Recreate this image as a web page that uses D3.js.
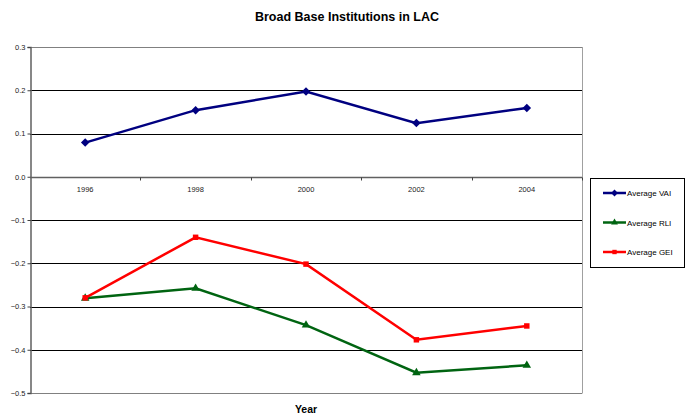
<!DOCTYPE html>
<html>
<head>
<meta charset="utf-8">
<script src="https://cdn.jsdelivr.net/npm/d3@7"></script>
<style>
  body { margin: 0; background: #fff; }
  svg { font-family: Arial, "Liberation Sans", sans-serif; }
</style>
</head>
<body>
<div id="chart"></div>
<script>
  // chart data
  var years = ["1996", "1998", "2000", "2002", "2004"];
  var vai = [0.079, 0.154, 0.197, 0.124, 0.159];
  var rli = [-0.281, -0.258, -0.343, -0.453, -0.436];
  var gei = [-0.280, -0.140, -0.202, -0.377, -0.345];
  var yTicks = [0.3, 0.2, 0.1, 0.0, -0.1, -0.2, -0.3, -0.4, -0.5];

  var series = [
    { name: "Average VAI", values: vai, color: "#000080", marker: "diamond" },
    { name: "Average RLI", values: rli, color: "#006411", marker: "triangle" },
    { name: "Average GEI", values: gei, color: "#ff0000", marker: "square" }
  ];

  (function(){
    var width = 686, height = 417;
    var plotLeft = 30, plotRight = 582, plotTop = 47, plotBottom = 393;

    var svg = d3.select('#chart')
        .append('svg')
        .attr('width', width)
        .attr('height', height);

    var x = d3.scaleBand().domain(years).range([plotLeft, plotRight]);
    var y = d3.scaleLinear().domain([-0.5, 0.3]).range([plotBottom, plotTop]);

    // gridlines
    svg.append('g')
      .selectAll('line')
      .data(yTicks)
      .enter().append('line')
        .attr('x1', plotLeft).attr('x2', plotRight)
        .attr('y1', function(d) { return Math.round(y(d)) + 0.5; })
        .attr('y2', function(d) { return Math.round(y(d)) + 0.5; })
        .style('stroke', function(d) { return (d === 0.3 || d === -0.5) ? '#808080' : '#000'; })
        .style('stroke-width', 1);

    // right border of plot area
    svg.append('line')
      .attr('x1', plotRight + 0.5).attr('x2', plotRight + 0.5)
      .attr('y1', plotTop).attr('y2', plotBottom + 0.5)
      .style('stroke', '#a0a0a0');

    // y axis
    var yAxis = svg.append('g')
      .attr('transform', 'translate(' + (plotLeft + 0.5) + ',0)')
      .call(d3.axisLeft(y).tickValues(yTicks).tickSize(3).tickFormat(d3.format('.1f')));
    yAxis.select('.domain').style('stroke', '#606060').style('stroke-width', 1.5);
    yAxis.selectAll('.tick line').style('stroke', '#404040');
    yAxis.selectAll('.tick text').style('font-size', '7.5px').style('fill', '#222')
      .style('font-family', 'Arial, "Liberation Sans", sans-serif').attr('x', -5);

    // x axis at zero, ticks between categories
    var y0 = Math.round(y(0)) + 0.5;
    svg.append('line')
      .attr('x1', plotLeft).attr('x2', plotRight)
      .attr('y1', y0).attr('y2', y0)
      .style('stroke', '#606060').style('stroke-width', 1.5);
    svg.append('g')
      .selectAll('line')
      .data(years)
      .enter().append('line')
        .attr('x1', function(d) { return Math.round(x(d) + x.step()) + 0.5; })
        .attr('x2', function(d) { return Math.round(x(d) + x.step()) + 0.5; })
        .attr('y1', y0).attr('y2', y0 + 3)
        .style('stroke', '#404040');
    svg.append('g')
      .selectAll('text')
      .data(years)
      .enter().append('text')
        .attr('x', function(d) { return x(d) + x.bandwidth() / 2; })
        .attr('y', y0 + 14)
        .attr('text-anchor', 'middle')
        .style('font-size', '7.5px')
        .style('fill', '#222')
        .text(function(d) { return d; });

    var markerPath = function(type) {
      if (type === 'diamond') return d3.symbol().type(d3.symbolDiamond2).size(46)();
      if (type === 'triangle') return d3.symbol().type(d3.symbolTriangle2).size(52)();
      return d3.symbol().type(d3.symbolSquare2).size(38)();
    };

    var line = d3.line()
      .x(function(d, i) { return x(years[i]) + x.bandwidth() / 2; })
      .y(function(d) { return y(d); });

    series.forEach(function(s) {
      svg.append('path')
        .datum(s.values)
        .attr('d', line)
        .style('fill', 'none')
        .style('stroke', s.color)
        .style('stroke-width', 2.5);
      svg.append('g')
        .selectAll('path')
        .data(s.values)
        .enter().append('path')
          .attr('d', markerPath(s.marker))
          .attr('transform', function(d, i) {
            return 'translate(' + (x(years[i]) + x.bandwidth() / 2) + ',' + y(d) + ')';
          })
          .style('fill', s.color);
    });

    // title and axis label
    svg.append('text')
      .attr('x', 347).attr('y', 21)
      .attr('text-anchor', 'middle')
      .style('font-size', '12.5px').style('font-weight', 'bold')
      .text('Broad Base Institutions in LAC');
    svg.append('text')
      .attr('x', (plotLeft + plotRight) / 2).attr('y', 413)
      .attr('text-anchor', 'middle')
      .style('font-size', '10.5px').style('font-weight', 'bold')
      .text('Year');

    // legend
    var legend = svg.append('g');
    legend.append('rect')
      .attr('x', 590.5).attr('y', 178.5)
      .attr('width', 94).attr('height', 89)
      .style('fill', '#fff').style('stroke', '#000');
    series.forEach(function(s, i) {
      var ly = 193 + i * 29.5;
      legend.append('line')
        .attr('x1', 603).attr('x2', 626)
        .attr('y1', ly).attr('y2', ly)
        .style('stroke', s.color).style('stroke-width', 2.5);
      legend.append('path')
        .attr('d', markerPath(s.marker))
        .attr('transform', 'translate(614.5,' + ly + ') scale(0.8)')
        .style('fill', s.color);
      legend.append('text')
        .attr('x', 627).attr('y', ly + 3)
        .style('font-size', '8px')
        .text(s.name);
    });
  })();
</script>
</body>
</html>
